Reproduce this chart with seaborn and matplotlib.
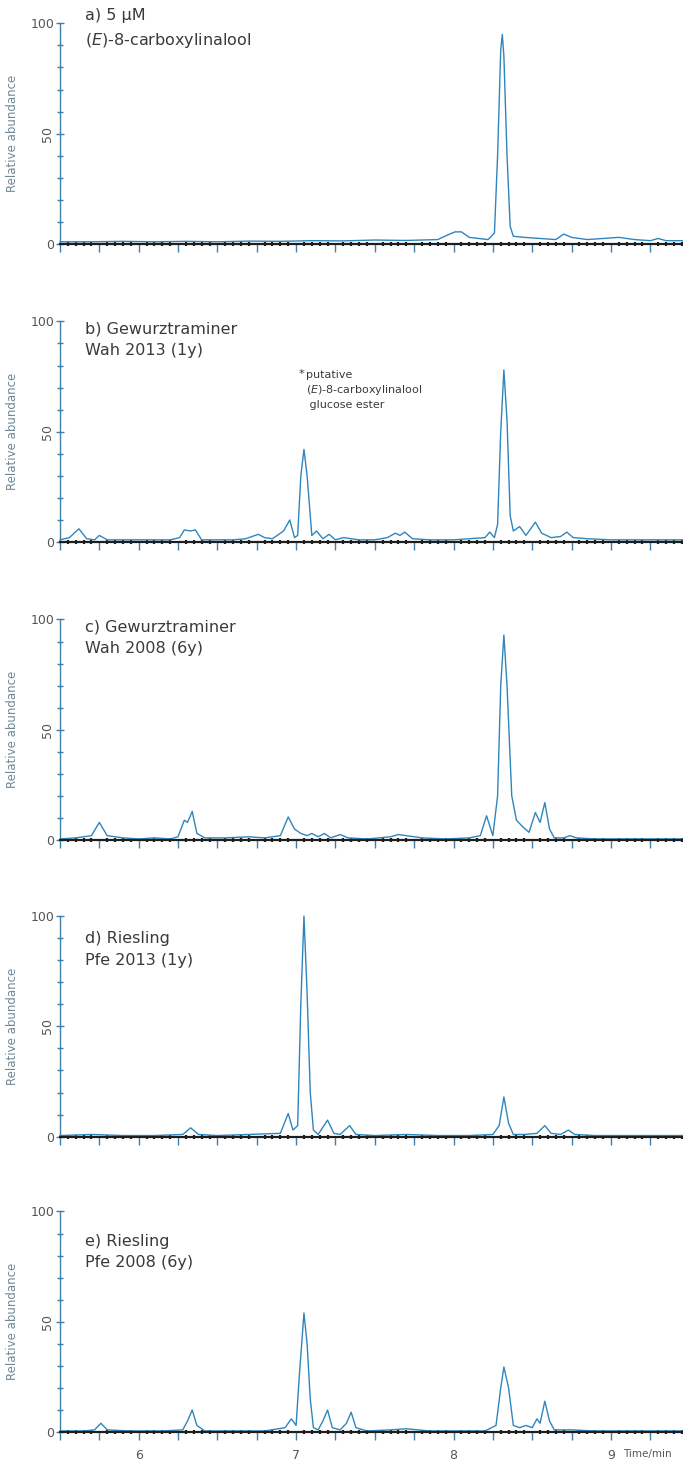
import numpy as np
import pandas as pd
import matplotlib
matplotlib.use("Agg")
import matplotlib.pyplot as plt
import seaborn as sns
from matplotlib.ticker import FixedLocator, MultipleLocator

# retention time (min) / relative abundance (%)
a_time = [5.50, 5.70, 5.90, 6.10, 6.30, 6.50, 6.70, 6.90, 7.10, 7.30,
          7.50, 7.70, 7.90, 7.96, 8.01, 8.05, 8.10, 8.16, 8.22, 8.26,
          8.28, 8.30, 8.31, 8.32, 8.34, 8.36, 8.38, 8.45, 8.55, 8.65,
          8.70, 8.75, 8.85, 8.95, 9.05, 9.15, 9.25, 9.30, 9.35, 9.47]
a_abund = [1.0, 1.0, 1.2, 1.0, 1.2, 1.0, 1.3, 1.2, 1.5, 1.4,
           1.8, 1.6, 2.0, 4.0, 5.5, 5.5, 3.0, 2.5, 2.0, 5.0,
           40, 88, 95, 85, 40, 8, 3.5, 3.0, 2.5, 2.0,
           4.5, 3.0, 2.0, 2.5, 3.0, 2.0, 1.5, 2.5, 1.5, 1.5]

b_time = [5.50, 5.56, 5.62, 5.67, 5.72, 5.75, 5.80, 5.90, 6.00, 6.10,
          6.20, 6.26, 6.29, 6.33, 6.36, 6.40, 6.50, 6.60, 6.68, 6.72,
          6.76, 6.80, 6.85, 6.92, 6.96, 6.99, 7.01, 7.03, 7.05, 7.07,
          7.10, 7.13, 7.17, 7.21, 7.25, 7.30, 7.40, 7.50, 7.58, 7.63,
          7.66, 7.69, 7.74, 7.85, 8.00, 8.10, 8.20, 8.23, 8.26, 8.28,
          8.30, 8.32, 8.34, 8.36, 8.38, 8.42, 8.46, 8.52, 8.56, 8.62,
          8.68, 8.72, 8.76, 8.85, 9.00, 9.20, 9.47]
b_abund = [1.0, 2.0, 6.0, 1.5, 1.0, 3.0, 1.0, 1.0, 1.0, 1.0,
           1.0, 2.0, 5.5, 5.0, 5.5, 1.0, 1.0, 1.0, 1.5, 2.5,
           3.5, 2.0, 1.5, 5.0, 10.0, 2.0, 3.0, 30, 42, 30,
           3.0, 5.0, 1.5, 3.5, 1.0, 2.0, 1.0, 1.0, 2.0, 4.0,
           3.0, 4.5, 1.5, 1.0, 1.0, 1.5, 2.0, 4.5, 2.0, 8.0,
           50, 78, 55, 12, 5.0, 7.0, 3.0, 9.0, 4.0, 2.0,
           2.5, 4.5, 2.0, 1.5, 1.0, 1.0, 1.0]

c_time = [5.50, 5.60, 5.70, 5.75, 5.80, 5.90, 6.00, 6.10, 6.20, 6.25,
          6.29, 6.31, 6.34, 6.37, 6.42, 6.55, 6.70, 6.80, 6.90, 6.95,
          6.99, 7.03, 7.07, 7.10, 7.14, 7.18, 7.22, 7.28, 7.33, 7.45,
          7.60, 7.65, 7.70, 7.80, 7.95, 8.10, 8.17, 8.21, 8.25, 8.28,
          8.30, 8.32, 8.34, 8.37, 8.40, 8.44, 8.48, 8.52, 8.55, 8.58,
          8.61, 8.64, 8.70, 8.74, 8.78, 8.90, 9.10, 9.30, 9.47]
c_abund = [0.5, 1.0, 2.0, 8.0, 2.0, 1.0, 0.5, 1.0, 0.5, 1.5,
           9.0, 8.0, 13.0, 3.0, 1.0, 1.0, 1.5, 1.0, 2.0, 10.5,
           5.0, 3.0, 2.0, 3.0, 1.5, 3.0, 1.0, 2.5, 1.0, 0.5,
           1.5, 2.5, 2.0, 1.0, 0.5, 1.0, 2.0, 11.0, 2.0, 20,
           70, 93, 70, 20, 9.0, 6.0, 3.5, 12.5, 8.0, 17.0,
           5.0, 1.0, 1.0, 2.0, 1.0, 0.5, 0.5, 0.5, 0.5]

d_time = [5.50, 5.70, 5.90, 6.10, 6.28, 6.33, 6.38, 6.50, 6.70, 6.90,
          6.95, 6.98, 7.01, 7.03, 7.05, 7.07, 7.09, 7.11, 7.14, 7.20,
          7.24, 7.28, 7.34, 7.38, 7.50, 7.70, 7.90, 8.10, 8.25, 8.29,
          8.32, 8.35, 8.38, 8.45, 8.53, 8.58, 8.62, 8.68, 8.73, 8.77,
          8.90, 9.10, 9.47]
d_abund = [0.5, 1.0, 0.5, 0.5, 1.0, 4.0, 1.0, 0.5, 1.0, 1.5,
           10.5, 3.0, 5.0, 60, 100, 65, 20, 3.0, 1.0, 7.5,
           1.5, 1.0, 5.0, 1.0, 0.5, 1.0, 0.5, 0.5, 1.0, 5.0,
           18.0, 6.0, 1.0, 1.0, 1.5, 5.0, 1.5, 1.0, 3.0, 1.0,
           0.5, 0.5, 0.5]

e_time = [5.50, 5.65, 5.72, 5.76, 5.80, 5.95, 6.15, 6.28, 6.31, 6.34,
          6.37, 6.42, 6.60, 6.80, 6.93, 6.97, 7.00, 7.02, 7.05, 7.07,
          7.09, 7.11, 7.14, 7.17, 7.20, 7.23, 7.28, 7.32, 7.35, 7.38,
          7.45, 7.60, 7.70, 7.85, 8.05, 8.20, 8.27, 8.30, 8.32, 8.35,
          8.38, 8.42, 8.46, 8.50, 8.53, 8.55, 8.58, 8.61, 8.64, 8.75,
          8.90, 9.10, 9.47]
e_abund = [0.5, 0.5, 1.0, 4.0, 1.0, 0.5, 0.5, 1.0, 5.0, 10.0,
           3.0, 0.5, 0.5, 0.5, 2.0, 6.0, 3.0, 25, 54, 40,
           15, 2.0, 1.0, 5.0, 10.0, 2.0, 1.0, 4.0, 9.0, 2.0,
           0.5, 1.0, 1.5, 0.5, 0.5, 0.5, 3.0, 20, 29.5, 20,
           3.0, 2.0, 3.0, 2.0, 6.0, 4.0, 14.0, 5.0, 1.0, 1.0,
           0.5, 0.5, 0.5]

panel_titles = ["a) 5 µM\n($\\it{E}$)-8-carboxylinalool",
                "b) Gewurztraminer\nWah 2013 (1y)",
                "c) Gewurztraminer\nWah 2008 (6y)",
                "d) Riesling\nPfe 2013 (1y)",
                "e) Riesling\nPfe 2008 (6y)"]
x_labels = {6: "6", 7: "7", 8: "8", 9: "9"}

traces = [(a_time, a_abund), (b_time, b_abund), (c_time, c_abund),
          (d_time, d_abund), (e_time, e_abund)]

sns.set_style("ticks")
plt.rcParams['font.family'] = ['DejaVu Sans']

line_col = "#2f86bd"
axis_col = "#3f7fab"
text_col = "#3a3a3a"

fig = plt.figure(figsize=(6.83, 14.61), dpi=100)
bottoms = [0.833, 0.629, 0.425, 0.222, 0.0198]
title_tops = [107, 100, 100, 93, 90]
left, width, height = 0.0878, 0.915, 0.151

for i, ((t, y), title) in enumerate(zip(traces, panel_titles)):
    ax = fig.add_axes([left, bottoms[i], width, height])
    df = pd.DataFrame({"time": t, "abund": y})
    sns.lineplot(data=df, x="time", y="abund", ax=ax, color=line_col,
                 lw=1.0, clip_on=False)
    ax.set_xlim(5.5, 9.47)
    ax.set_ylim(0, 100)
    sns.despine(ax=ax)
    ax.spines['left'].set_color(axis_col)
    ax.spines['left'].set_linewidth(1.0)
    ax.spines['bottom'].set_color("#1e1e1e")
    ax.spines['bottom'].set_linewidth(1.6)

    # y axis
    ax.yaxis.set_major_locator(FixedLocator([0, 50, 100]))
    ax.yaxis.set_minor_locator(MultipleLocator(10))
    ax.set_yticklabels(["0", "50", "100"], fontsize=9, color="#555555")
    ax.get_yticklabels()[1].set_rotation(90)
    ax.get_yticklabels()[1].set_va("center")
    ax.tick_params(axis='y', which='major', direction='inout', length=6,
                   width=1.0, color=axis_col, pad=1)
    ax.tick_params(axis='y', which='minor', direction='inout', length=4,
                   width=1.0, color=axis_col)
    ax.set_ylabel("Relative abundance", fontsize=8.5, color="#6f8797")
    ax.yaxis.set_label_coords(-0.065, 0.5)

    # x axis: dense dotted scale, longer ticks every 0.25 min
    major_pos = np.arange(5.5, 9.47, 0.25)
    ax.xaxis.set_major_locator(FixedLocator(major_pos))
    ax.xaxis.set_minor_locator(MultipleLocator(0.05))
    ax.tick_params(axis='x', which='major', direction='out', length=6,
                   width=1.0, color=axis_col, pad=6)
    ax.tick_params(axis='x', which='minor', direction='inout', length=3,
                   width=1.6, color="#1e1e1e")
    if i == 4:
        ax.set_xticklabels([x_labels.get(int(round(p)), "") if abs(p - round(p)) < 1e-6 else ""
                            for p in major_pos], fontsize=9, color="#555555")
        ax.text(9.08, -0.075, "Time/min", transform=ax.get_xaxis_transform(),
                fontsize=7.5, color="#555555", va="top", clip_on=False)
    else:
        ax.set_xticklabels([])
    ax.set_xlabel("")

    ax.text(5.66, title_tops[i], title, fontsize=11.5, color=text_col, va="top",
            linespacing=1.55, clip_on=False)

    if i == 1:
        ax.text(7.015, 78.5, "*", fontsize=8, color=text_col, va="top")
        ax.text(7.06, 78, "putative\n($\\it{E}$)-8-carboxylinalool\n glucose ester",
                fontsize=8, color=text_col, va="top", linespacing=1.35)

fig.savefig("out.png", dpi=100)
